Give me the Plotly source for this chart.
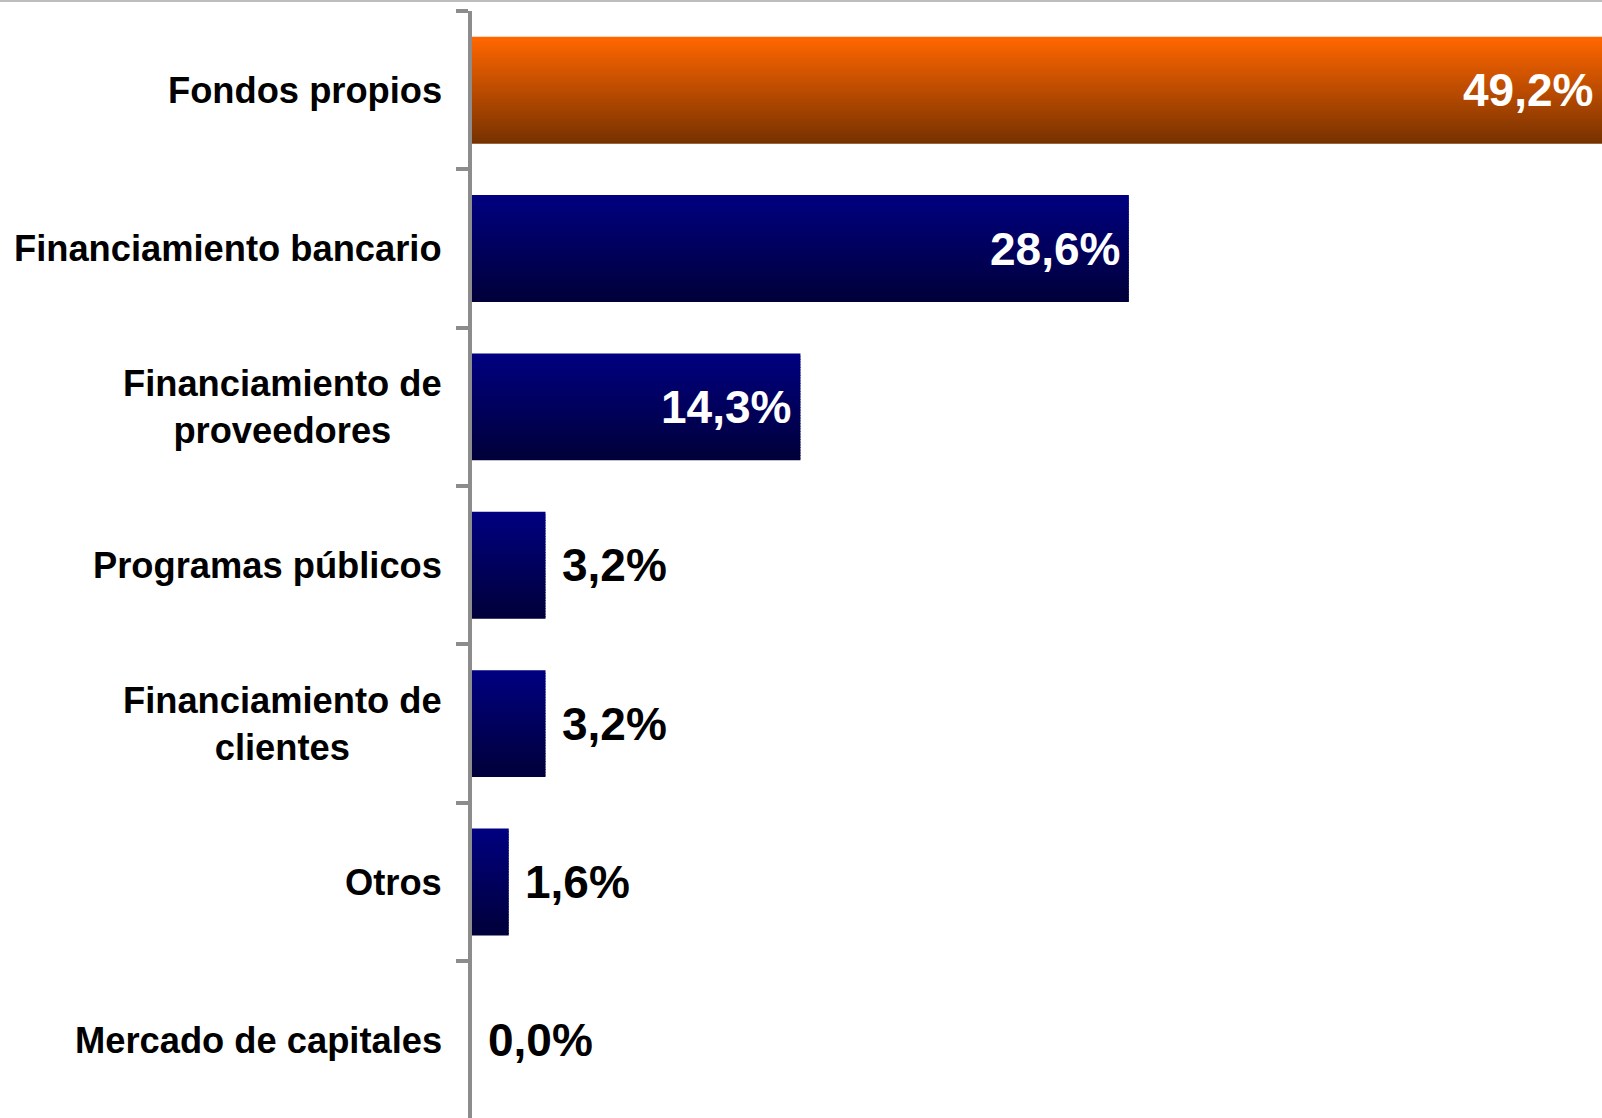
import plotly.graph_objects as go

# ---- data ----
categories = [
    "Fondos propios",
    "Financiamiento bancario",
    "Financiamiento de<br>proveedores",
    "Programas públicos",
    "Financiamiento de<br>clientes",
    "Otros",
    "Mercado de capitales",
]
values = [49.2, 28.6, 14.3, 3.2, 3.2, 1.6, 0.0]
highlight = "Fondos propios"

# ---- style ----
FONT = "Arial, 'Liberation Sans', sans-serif"
ORANGE = ((0xFF, 0x66, 0x00), (0x78, 0x32, 0x00))
NAVY = ((0x00, 0x00, 0x80), (0x00, 0x00, 0x3A))
BAR_W = 0.675
N_SLICES = 40
AXIS_GRAY = "#8C8C8C"


def mix(c0, c1, t):
    return "rgb(%d,%d,%d)" % tuple(round(a + (b - a) * t) for a, b in zip(c0, c1))


fig = go.Figure()
step = BAR_W / N_SLICES
for k in range(N_SLICES):
    t = k / (N_SLICES - 1)
    cols = [mix(*(ORANGE if c == highlight else NAVY), t) for c in categories]
    w = step if k == N_SLICES - 1 else step * 1.4
    fig.add_trace(go.Bar(
        y=categories, x=values, orientation="h",
        width=w, offset=-BAR_W / 2 + k * step,
        marker=dict(color=cols, line=dict(width=0)),
        hoverinfo="skip", showlegend=False,
    ))

annotations = []
for c, v in zip(categories, values):
    label = f"{v:.1f}".replace(".", ",") + "%"
    inside = v > 10
    annotations.append(dict(
        x=v, y=c, xref="x", yref="y", text=label, showarrow=False,
        xanchor="right" if inside else "left",
        xshift=-7 if inside else 14,
        font=dict(family=FONT, size=46, color="white" if inside else "black", weight="bold"),
    ))
    annotations.append(dict(
        x=0, y=c, xref="paper", yref="y", text=c, showarrow=False,
        xanchor="right", align="center", xshift=-28,
        font=dict(family=FONT, size=36.3, color="black", weight="bold"),
    ))

W, H = 1602, 1118
L, T = 472, 11
plot_w, plot_h = W - L, H - T

fig.update_layout(
    width=W, height=H,
    margin=dict(l=L, r=0, t=T, b=0, pad=0),
    paper_bgcolor="white", plot_bgcolor="white",
    barmode="overlay",
    annotations=annotations,
    xaxis=dict(visible=False, range=[0, 49.2], fixedrange=True),
    yaxis=dict(
        type="category", range=[6.49, -0.5],
        showticklabels=False, ticks="outside", tickson="boundaries",
        ticklen=12, tickwidth=4, tickcolor=AXIS_GRAY,
        showline=True, linewidth=4, linecolor=AXIS_GRAY,
        showgrid=False, zeroline=False, fixedrange=True,
    ),
    shapes=[dict(
        type="line", xref="paper", yref="paper",
        x0=-L / plot_w, x1=1, y0=1 + 10 / plot_h, y1=1 + 10 / plot_h,
        line=dict(color="#BDBDBD", width=2),
    )],
)

fig.write_html(
    "out.html",
    config={"displayModeBar": False},
    post_script="document.body.style.margin='0';document.body.style.overflow='hidden';",
)
